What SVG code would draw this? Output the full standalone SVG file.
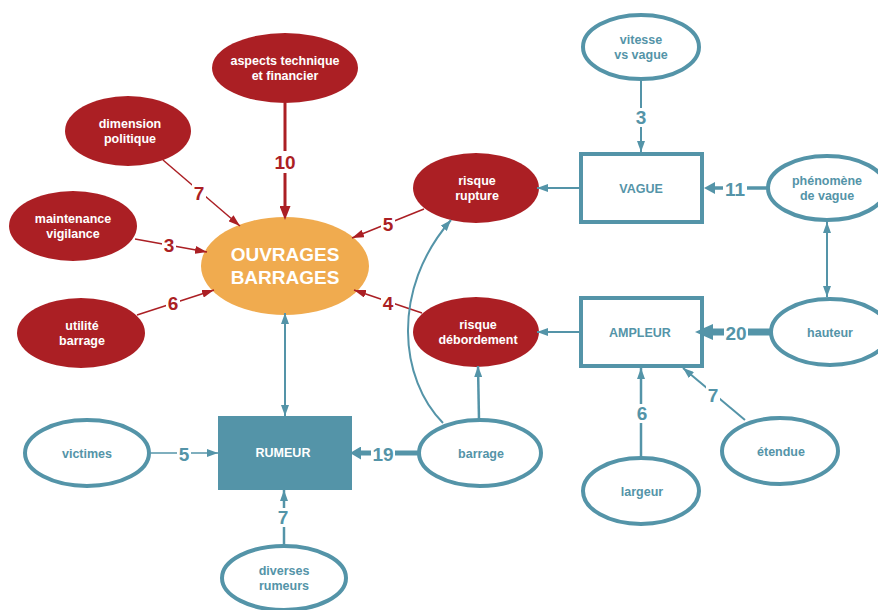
<svg xmlns="http://www.w3.org/2000/svg" width="878" height="610" viewBox="0 0 878 610">
<style>
text{font-family:"Liberation Sans",Arial,sans-serif;font-weight:bold;text-anchor:middle}
.nt{font-size:12.5px}
.w{fill:#fff}
.tt{fill:#5494A8}
.rn{fill:#AB1F24;stroke:none}
.tn{fill:#fff;stroke:#5494A8;stroke-width:4}
.num{font-size:19px}
.nr{fill:#AB1F24}
.ntl{fill:#5494A8}
.lr{stroke:#AB1F24;fill:none}
.lt{stroke:#5494A8;fill:none}
.bg{fill:#fff}
</style>
<defs>
<marker id="mR" markerUnits="userSpaceOnUse" markerWidth="12" markerHeight="8" refX="12" refY="4" orient="auto"><path d="M0,0 L12,4 L0,8 z" fill="#AB1F24"/></marker>
<marker id="mR10" markerUnits="userSpaceOnUse" markerWidth="14" markerHeight="11" refX="2" refY="5.5" orient="auto"><path d="M0,0 L14,5.5 L0,11 z" fill="#AB1F24"/></marker>
<marker id="mT" markerUnits="userSpaceOnUse" markerWidth="11" markerHeight="8" refX="11" refY="4" orient="auto-start-reverse"><path d="M0,0 L11,4 L0,8 z" fill="#5494A8"/></marker>
<marker id="mT11" markerUnits="userSpaceOnUse" markerWidth="11" markerHeight="12" refX="2" refY="6" orient="auto"><path d="M0,0 L11,6 L0,12 z" fill="#5494A8"/></marker>
<marker id="mT19" markerUnits="userSpaceOnUse" markerWidth="11" markerHeight="13" refX="2" refY="6.5" orient="auto"><path d="M0,0 L11,6.5 L0,13 z" fill="#5494A8"/></marker>
<marker id="mT20" markerUnits="userSpaceOnUse" markerWidth="18" markerHeight="16" refX="2" refY="8" orient="auto"><path d="M0,0 L18,8 L0,16 z" fill="#5494A8"/></marker>
</defs>
<rect width="878" height="610" fill="#fff"/>

<g id="aspects">
<ellipse class="rn" cx="285" cy="68" rx="73" ry="35"/>
<text class="nt w" x="285" y="65">aspects technique</text>
<text class="nt w" x="285" y="80">et financier</text>
</g>
<g id="dimension">
<ellipse class="rn" cx="128" cy="131" rx="63" ry="35"/>
<text class="nt w" x="130" y="128">dimension</text>
<text class="nt w" x="130" y="143">politique</text>
</g>
<g id="maintenance">
<ellipse class="rn" cx="73" cy="226" rx="64" ry="35"/>
<text class="nt w" x="73" y="223">maintenance</text>
<text class="nt w" x="73" y="238">vigilance</text>
</g>
<g id="utilite">
<ellipse class="rn" cx="81" cy="333" rx="64" ry="35"/>
<text class="nt w" x="82" y="330">utilité</text>
<text class="nt w" x="82" y="345">barrage</text>
</g>
<g id="ouvrages">
<ellipse cx="285" cy="266" rx="84" ry="49" fill="#F0AB4F"/>
<text class="w" x="285" y="261" style="font-size:19px">OUVRAGES</text>
<text class="w" x="285" y="284" style="font-size:19px">BARRAGES</text>
</g>
<g id="risque-rupture">
<ellipse class="rn" cx="476" cy="188" rx="63" ry="35"/>
<text class="nt w" x="477" y="185">risque</text>
<text class="nt w" x="477" y="200">rupture</text>
</g>
<g id="risque-debordement">
<ellipse class="rn" cx="476" cy="332" rx="63" ry="35"/>
<text class="nt w" x="478" y="329">risque</text>
<text class="nt w" x="478" y="344">débordement</text>
</g>
<g id="vague">
<rect class="tn" x="581" y="154" width="121" height="68"/>
<text class="nt tt" x="641" y="193">VAGUE</text>
</g>
<g id="vitesse">
<ellipse class="tn" cx="641" cy="47" rx="58" ry="32"/>
<text class="nt tt" x="641" y="44">vitesse</text>
<text class="nt tt" x="641" y="59">vs vague</text>
</g>
<g id="phenomene">
<ellipse class="tn" cx="827" cy="188" rx="59" ry="32"/>
<text class="nt tt" x="827" y="185">phénomène</text>
<text class="nt tt" x="827" y="200">de vague</text>
</g>
<g id="ampleur">
<rect class="tn" x="581" y="298" width="121" height="68"/>
<text class="nt tt" x="640" y="337">AMPLEUR</text>
</g>
<g id="hauteur">
<ellipse class="tn" cx="830" cy="332" rx="59" ry="33"/>
<text class="nt tt" x="830" y="337">hauteur</text>
</g>
<g id="barrage">
<ellipse class="tn" cx="480" cy="453" rx="61" ry="33"/>
<text class="nt tt" x="481" y="458">barrage</text>
</g>
<g id="largeur">
<ellipse class="tn" cx="641" cy="491" rx="58" ry="33"/>
<text class="nt tt" x="642" y="496">largeur</text>
</g>
<g id="etendue">
<ellipse class="tn" cx="780" cy="451" rx="58" ry="33"/>
<text class="nt tt" x="781" y="456">étendue</text>
</g>
<g id="victimes">
<ellipse class="tn" cx="87" cy="453" rx="62" ry="33"/>
<text class="nt tt" x="87" y="458">victimes</text>
</g>
<g id="rumeur">
<rect x="218" y="416" width="134" height="74" fill="#5494A8"/>
<text class="nt w" x="283" y="457">RUMEUR</text>
</g>
<g id="diverses">
<ellipse class="tn" cx="284" cy="578" rx="62" ry="32"/>
<text class="nt tt" x="284" y="575">diverses</text>
<text class="nt tt" x="284" y="590">rumeurs</text>
</g>

<g id="connectors">
<line class="lr" x1="285" y1="103" x2="285" y2="208" stroke-width="3" marker-end="url(#mR10)"/>
<line class="lr" x1="163" y1="160" x2="240" y2="226" stroke-width="1.5" marker-end="url(#mR)"/>
<line class="lr" x1="135" y1="239" x2="207" y2="252" stroke-width="1.5" marker-end="url(#mR)"/>
<line class="lr" x1="137" y1="315" x2="214" y2="290" stroke-width="1.5" marker-end="url(#mR)"/>
<line class="lr" x1="424" y1="209" x2="352" y2="238" stroke-width="1.5" marker-end="url(#mR)"/>
<line class="lr" x1="422" y1="313" x2="354" y2="290" stroke-width="1.5" marker-end="url(#mR)"/>

<line class="lt" x1="285" y1="313" x2="285" y2="416" stroke-width="2" marker-start="url(#mT)" marker-end="url(#mT)"/>
<line class="lt" x1="151" y1="453" x2="218" y2="453" stroke-width="1.5" marker-end="url(#mT)"/>
<line class="lt" x1="284" y1="546" x2="284" y2="490" stroke-width="2.5" marker-end="url(#mT)"/>
<line class="lt" x1="419" y1="453" x2="359" y2="453" stroke-width="5" marker-end="url(#mT19)"/>
<line class="lt" x1="479" y1="420" x2="478" y2="366" stroke-width="2.5" marker-end="url(#mT)"/>
<path class="lt" d="M443,423 C400,380 390,290 451,220" stroke-width="2" marker-end="url(#mT)"/>
<line class="lt" x1="579" y1="188" x2="537" y2="188" stroke-width="2" marker-end="url(#mT)"/>
<line class="lt" x1="641" y1="79" x2="641" y2="152" stroke-width="2" marker-end="url(#mT)"/>
<line class="lt" x1="768" y1="188" x2="713" y2="188" stroke-width="3.5" marker-end="url(#mT11)"/>
<line class="lt" x1="827" y1="222" x2="827" y2="297" stroke-width="2" marker-start="url(#mT)" marker-end="url(#mT)"/>
<line class="lt" x1="579" y1="332" x2="537" y2="332" stroke-width="2" marker-end="url(#mT)"/>
<line class="lt" x1="771" y1="332" x2="711" y2="332" stroke-width="7" marker-end="url(#mT20)"/>
<line class="lt" x1="641" y1="458" x2="641" y2="368" stroke-width="2.5" marker-end="url(#mT)"/>
<line class="lt" x1="745" y1="420" x2="683" y2="368" stroke-width="2" marker-end="url(#mT)"/>

<rect class="bg" x="273" y="151" width="24" height="22"/><text class="num nr" x="285" y="169">10</text>
<rect class="bg" x="192" y="184" width="14" height="19"/><text class="num nr" x="199" y="200">7</text>
<rect class="bg" x="162" y="236" width="14" height="19"/><text class="num nr" x="169" y="252">3</text>
<rect class="bg" x="166" y="294" width="14" height="19"/><text class="num nr" x="173" y="310">6</text>
<rect class="bg" x="381" y="215" width="14" height="19"/><text class="num nr" x="388" y="231">5</text>
<rect class="bg" x="381" y="294" width="14" height="19"/><text class="num nr" x="388" y="310">4</text>

<rect class="bg" x="634" y="108" width="14" height="19"/><text class="num ntl" x="641" y="124">3</text>
<rect class="bg" x="723" y="179" width="24" height="20"/><text class="num ntl" x="735" y="196">11</text>
<rect class="bg" x="724" y="323" width="24" height="20"/><text class="num ntl" x="736" y="340">20</text>
<rect class="bg" x="635" y="404" width="14" height="19"/><text class="num ntl" x="642" y="420">6</text>
<rect class="bg" x="706" y="386" width="14" height="19"/><text class="num ntl" x="713" y="402">7</text>
<rect class="bg" x="177" y="445" width="14" height="19"/><text class="num ntl" x="184" y="461">5</text>
<rect class="bg" x="371" y="444" width="24" height="20"/><text class="num ntl" x="383" y="461">19</text>
<rect class="bg" x="276" y="508" width="14" height="19"/><text class="num ntl" x="283" y="524">7</text>
</g>
</svg>
